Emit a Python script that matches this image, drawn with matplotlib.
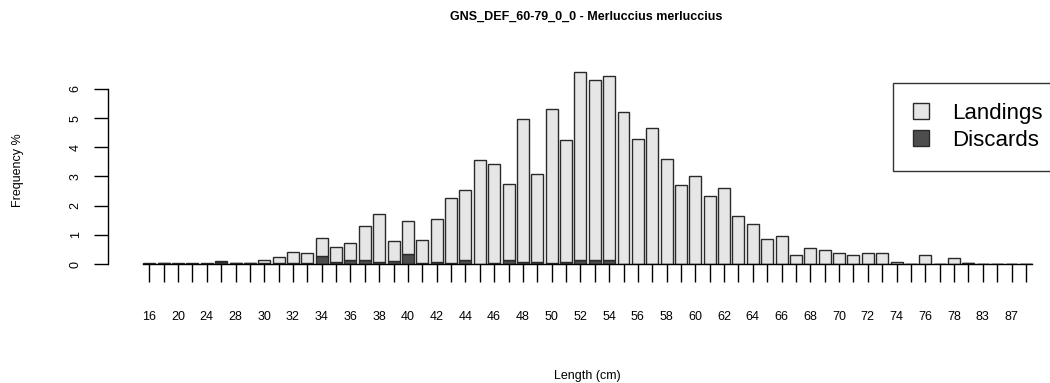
import matplotlib.pyplot as plt
from matplotlib.patches import Patch

plt.rcParams['font.family'] = ['Liberation Sans', 'DejaVu Sans']

# Length classes (cm) and frequency (%) per class
lengths = [16, 18, 20, 22, 24, 26, 28] + list(range(29, 79)) + [80, 83, 85, 87, 90]

landings = [0.01, 0.01, 0.02, 0.02, 0.02, 0.01, 0.01, 0.01,   # 16-29
            0.11, 0.21, 0.38, 0.35, 0.59, 0.51, 0.59, 1.16,   # 30-37
            1.65, 0.71, 1.16, 0.81, 1.47, 2.23, 2.39, 3.55,   # 38-45
            3.41, 2.61, 4.88, 3.02, 5.30, 4.16, 6.45, 6.18,   # 46-53
            6.34, 5.20, 4.27, 4.67, 3.59, 2.70, 3.03, 2.33,   # 54-61
            2.59, 1.66, 1.37, 0.85, 0.97, 0.31, 0.56, 0.48,   # 62-69
            0.37, 0.31, 0.37, 0.37, 0.08, 0.01, 0.31, 0.01,   # 70-77
            0.19, 0.0, 0.01, 0.01, 0.01, 0.01]                # 78-90

discards = [0.01, 0.04, 0.0, 0.0, 0.0, 0.08, 0.04, 0.03,
            0.03, 0.02, 0.02, 0.02, 0.29, 0.08, 0.13, 0.13,
            0.08, 0.09, 0.33, 0.02, 0.08, 0.02, 0.15, 0.0,
            0.02, 0.12, 0.08, 0.08, 0.03, 0.08, 0.12, 0.12,
            0.12, 0.0, 0.0, 0.0, 0.0, 0.0, 0.0, 0.0,
            0.0, 0.0, 0.0, 0.0, 0.0, 0.0, 0.0, 0.0,
            0.0, 0.0, 0.0, 0.0, 0.0, 0.0, 0.0, 0.0,
            0.0, 0.04, 0.0, 0.0, 0.0, 0.0]

yticks = [0, 1, 2, 3, 4, 5, 6]

W, H = 1050, 383
fig = plt.figure(figsize=(W / 100, H / 100), dpi=100)

# plot region in pixels: left edge 108, zero line at 264, 29.17 px per unit
px_unit_y = 29.17
px_unit_x = 11.975
x0_px, y0_px = 108, 264
ax_w = W - x0_px
ax_h = 240
ax = fig.add_axes([x0_px / W, (H - y0_px) / H, ax_w / W, ax_h / H])

pos = [i * 1.2 for i in range(len(lengths))]
xmin = (108 - 149.3) / px_unit_x
ax.set_xlim(xmin, xmin + ax_w / px_unit_x)
ax.set_ylim(0, ax_h / px_unit_y)

edge = '#2a2a2a'
ax.bar(pos, discards, width=1.0, color='#4d4d4d', edgecolor=edge, linewidth=1.0)
ax.bar(pos, landings, width=1.0, bottom=discards, color='#e6e6e6',
       edgecolor=edge, linewidth=1.0)

for s in ['top', 'right']:
    ax.spines[s].set_visible(False)
ax.spines['bottom'].set_bounds(pos[0] - 0.5, pos[-1] + 0.5)
ax.spines['left'].set_bounds(0, 6)
ax.spines['bottom'].set_linewidth(1.0)
ax.spines['left'].set_linewidth(1.0)

ax.set_xticks(pos)
ax.set_xticklabels([str(v) if i % 2 == 0 else '' for i, v in enumerate(lengths)])
ax.tick_params(axis='x', length=13, width=1.0, pad=21, labelsize=9)
ax.set_yticks(yticks)
ax.set_yticklabels([str(v) for v in yticks], rotation=90, va='center')
ax.tick_params(axis='y', length=10, width=1.0, pad=9, labelsize=9)

fig.text(586 / W, 1 - 17 / H, 'GNS_DEF_60-79_0_0 - Merluccius merluccius',
         ha='center', va='center', fontsize=9, fontweight='bold')
fig.text(587 / W, 1 - 376 / H, 'Length (cm)', ha='center', va='center', fontsize=9)
fig.text(18 / W, 1 - 170 / H, 'Frequency %', ha='center', va='center',
         fontsize=9, rotation=90)

handles = [Patch(facecolor='#e6e6e6', edgecolor=edge, label='Landings'),
           Patch(facecolor='#4d4d4d', edgecolor=edge, label='Discards')]
leg = fig.legend(handles=handles, loc='upper left',
                 bbox_to_anchor=(893 / W, 1 - 83 / H), fontsize=16,
                 frameon=True, fancybox=False, edgecolor='black',
                 handlelength=0.7, handleheight=0.7, handletextpad=1.05,
                 borderpad=0.9, labelspacing=0.25, borderaxespad=0)
leg.get_frame().set_linewidth(1.0)

fig.savefig('out.png', dpi=100)
